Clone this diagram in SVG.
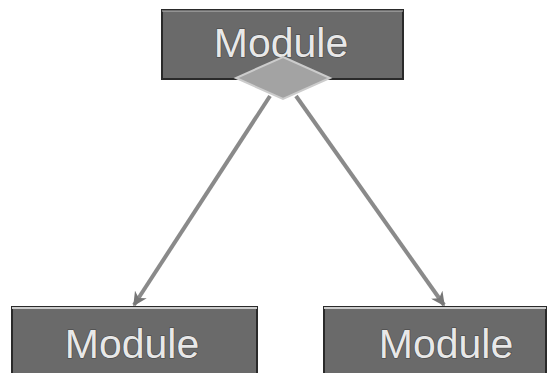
<svg xmlns="http://www.w3.org/2000/svg" width="557" height="373" viewBox="0 0 557 373">
<style>
.box{fill:#6a6a6a;stroke:#2a2a2a;stroke-width:2}
.lbl{font-family:'Liberation Sans',Arial,Helvetica,sans-serif;font-size:41px;fill:#e8e8e8;stroke:#444;stroke-width:1.2;text-anchor:middle;paint-order:stroke}
.edge{stroke:#8a8a8a;stroke-width:4;fill:none}
</style>
<defs>
<marker id="arr" viewBox="0 0 10 10" refX="9" refY="5" markerWidth="3.5" markerHeight="3.5" orient="auto">
<path d="M0,0 L10,5 L0,10 L3,5 Z" fill="#777"/>
</marker>
</defs>
<rect width="557" height="373" fill="#fff"/>
<g id="edges">
<line class="edge" x1="270" y1="96" x2="134" y2="305" marker-end="url(#arr)"/>
<line class="edge" x1="296" y1="96" x2="444" y2="305" marker-end="url(#arr)"/>
</g>
<g id="top">
<rect class="box" x="162" y="10" width="241" height="69"/>
<line x1="162" y1="11" x2="403" y2="11" stroke="#bbb" stroke-width="1"/>
<text class="lbl" x="281" y="57">Module</text>
<polygon points="283,57 330,78 283,99 236,78" fill="#a3a3a3" stroke="#ccc" stroke-width="2"/>
</g>
<g id="left">
<rect class="box" x="12" y="307" width="245" height="70"/>
<line x1="12" y1="308" x2="257" y2="308" stroke="#ccc" stroke-width="2"/>
<text class="lbl" x="132" y="358">Module</text>
</g>
<g id="right">
<rect class="box" x="324" y="307" width="222" height="70"/>
<line x1="324" y1="308" x2="546" y2="308" stroke="#ccc" stroke-width="2"/>
<text class="lbl" x="446" y="358">Module</text>
</g>
</svg>
